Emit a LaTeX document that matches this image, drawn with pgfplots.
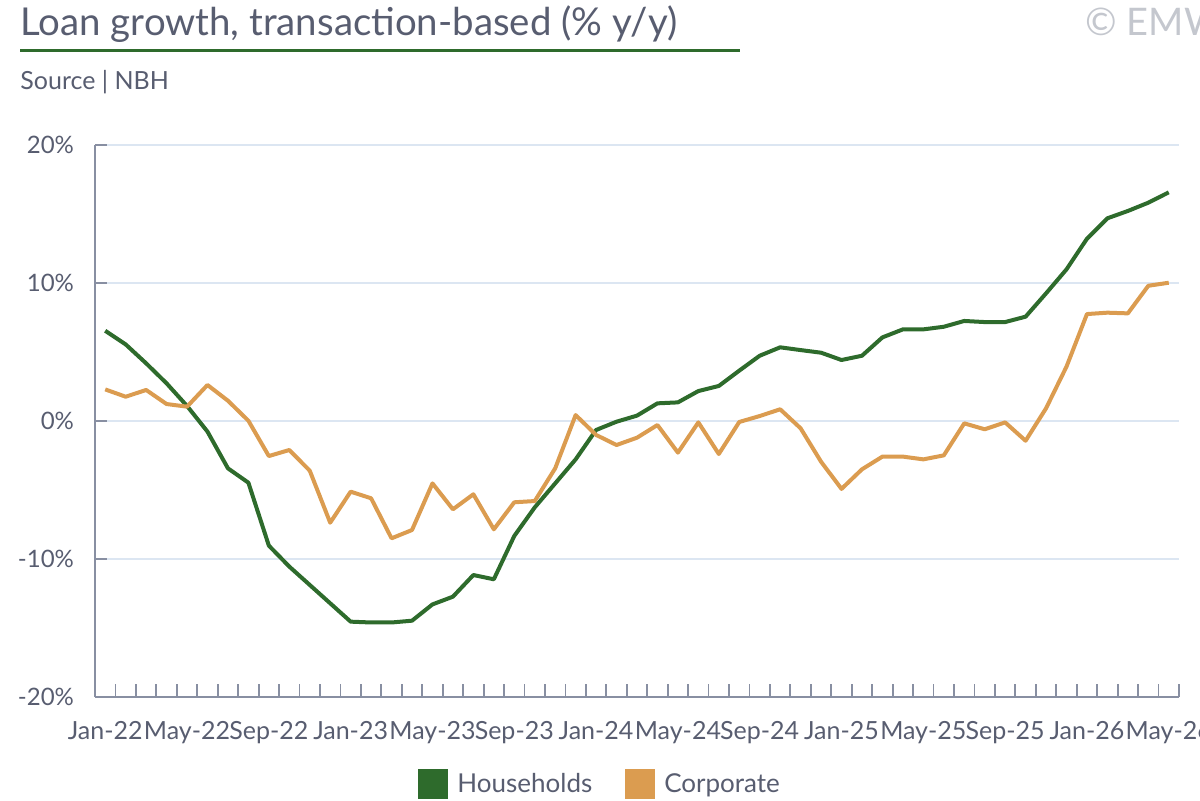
\documentclass[border=0pt]{standalone}
\usepackage{pgfplots}
\usepackage{pgfplotstable}
\pgfplotsset{compat=1.18}
\usepackage{fontspec}
\setmainfont{Lato}
\definecolor{txt}{RGB}{88,93,112}
\definecolor{hh}{RGB}{46,107,44}
\definecolor{corp}{RGB}{219,156,80}
\definecolor{gridc}{RGB}{220,230,242}
\definecolor{axc}{RGB}{136,143,162}
\definecolor{copyc}{RGB}{196,199,206}

\pgfplotstableread{
k h c
0 6.54 2.29
1 5.55 1.76
2 4.18 2.25
3 2.73 1.23
4 1.09 1.04
5 -0.77 2.61
6 -3.43 1.47
7 -4.47 0.02
8 -9.03 -2.54
9 -10.55 -2.10
10 -11.88 -3.60
11 -13.21 -7.37
12 -14.54 -5.12
13 -14.60 -5.60
14 -14.60 -8.50
15 -14.47 -7.90
16 -13.29 -4.52
17 -12.73 -6.40
18 -11.16 -5.31
19 -11.47 -7.85
20 -8.33 -5.89
21 -6.26 -5.80
22 -4.52 -3.43
23 -2.78 0.43
24 -0.65 -1.01
25 -0.05 -1.74
26 0.39 -1.21
27 1.28 -0.29
28 1.35 -2.29
29 2.17 -0.10
30 2.54 -2.39
31 3.65 -0.07
32 4.73 0.36
33 5.34 0.85
34 5.14 -0.53
35 4.95 -2.95
36 4.42 -4.92
37 4.73 -3.50
38 6.06 -2.58
39 6.64 -2.58
40 6.64 -2.78
41 6.83 -2.49
42 7.25 -0.17
43 7.17 -0.60
44 7.17 -0.10
45 7.56 -1.43
46 9.25 0.92
47 10.99 3.94
48 13.21 7.75
49 14.69 7.85
50 15.22 7.80
51 15.82 9.80
52 16.57 10.02
}\loandata

\begin{document}
\begin{tikzpicture}
\useasboundingbox (0pt,0pt) rectangle (600pt,400pt);
\node[anchor=base west, inner sep=0pt, text=txt, font=\fontsize{19.2}{21}\selectfont] at (10pt,382pt) {Loan growth, transaction-based (\% y/y)};
\node[anchor=base west, inner sep=0pt, text=copyc, font=\fontsize{19}{21}\selectfont] at (542.5pt,382pt) {© EMW};
\draw[hh, line width=1.5pt] (10pt,374.5pt) -- (370pt,374.5pt);
\node[anchor=base west, inner sep=0pt, text=txt, font=\fontsize{12.5}{14}\selectfont] at (10pt,355.5pt) {Source | NBH};
\begin{axis}[
  at={(47.5pt,51.5pt)}, anchor=south west,
  scale only axis, width=542pt, height=276pt,
  xmin=-0.5, xmax=52.5, ymin=-20, ymax=20,
  axis x line*=bottom, axis y line*=left,
  axis line style={axc, line width=0.9pt},
  xtick={0,4,...,52},
  xticklabels={Jan-22,May-22,Sep-22,Jan-23,May-23,Sep-23,Jan-24,May-24,Sep-24,Jan-25,May-25,Sep-25,Jan-26,May-26},
  minor xtick={0.5,1.5,...,52.5},
  major x tick style={draw=none},
  ytick={-20,-10,0,10,20},
  yticklabels={-20\%,-10\%,0\%,10\%,20\%},
  tick align=inside,
  major tick length=6pt, minor tick length=6.5pt,
  tick style={axc, line width=0.9pt},
  ymajorgrids=true,
  grid style={gridc, line width=0.8pt},
  ticklabel style={text=txt, font=\fontsize{12}{14}\selectfont},
  xticklabel style={anchor=north, yshift=-8.5pt, font=\fontsize{12.5}{14}\selectfont},
  yticklabel style={anchor=east, xshift=-7pt},
  legend style={draw=none, fill=none, at={(0.298,-0.158)}, anchor=west, legend columns=2,
    font=\fontsize{13}{15}\selectfont, text=txt, inner sep=0pt,
    nodes={inner sep=0pt},
    /tikz/every even column/.append style={column sep=16.5pt}},
  legend image code/.code={\fill[#1, draw=none] (0pt,-7.5pt) rectangle (15pt,7.5pt); \path[draw=none, fill=none] (0pt,0pt) rectangle (19.5pt,0.1pt);},
  legend cell align=left,
]
\addplot[hh, line width=2pt, line join=round] table[x=k, y=h] {\loandata};
\addlegendentry{Households}
\addplot[corp, line width=2pt, line join=round] table[x=k, y=c] {\loandata};
\addlegendentry{Corporate}
\end{axis}
\end{tikzpicture}
\end{document}
